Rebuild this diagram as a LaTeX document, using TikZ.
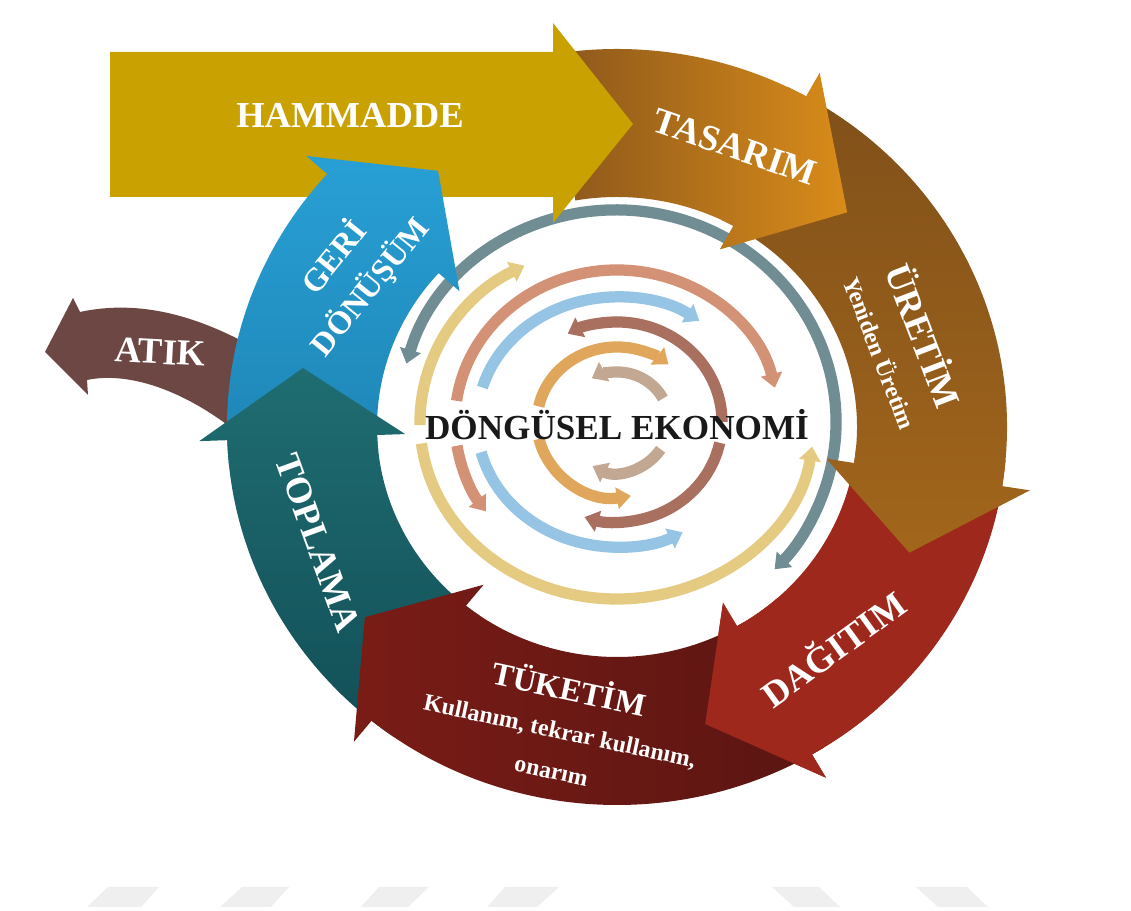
\documentclass[tikz,border=0pt]{standalone}
\usepackage{fontspec}
\setmainfont{Liberation Serif}
\usetikzlibrary{arrows.meta,positioning,calc}

\definecolor{cHammadde}{HTML}{C9A101}
\definecolor{cTasarimL}{HTML}{8A561C}
\definecolor{cTasarimR}{HTML}{D98C19}
\definecolor{cUretimT}{HTML}{80501A}
\definecolor{cUretimB}{HTML}{A2661B}
\definecolor{cDagitim}{HTML}{9E281B}
\definecolor{cTuketimL}{HTML}{7A1C16}
\definecolor{cTuketimR}{HTML}{5A1512}
\definecolor{cToplamaT}{HTML}{1F6D71}
\definecolor{cToplamaB}{HTML}{124F57}
\definecolor{cGeriT}{HTML}{28A0D5}
\definecolor{cGeriB}{HTML}{1E84B5}
\definecolor{cAtik}{HTML}{6C4744}
\definecolor{rGray}{HTML}{6F8D93}
\definecolor{rYellow}{HTML}{E5CB82}
\definecolor{rSalmon}{HTML}{D39176}
\definecolor{rBlue}{HTML}{95C4E4}
\definecolor{rMauve}{HTML}{A97060}
\definecolor{rOrange}{HTML}{E0A75C}
\definecolor{rTaupe}{HTML}{C2A892}
\definecolor{cStripe}{HTML}{EFEFEF}

% curved band: tail angle, head base angle, tip angle
\newcommand\ringarrow[3]{(#1:240 and 230) -- (#1:390 and 378)
  arc[start angle=#1, end angle=#2, x radius=390, y radius=378]
  -- (#2:418 and 405) -- (#3:320 and 309) -- (#2:212 and 203) -- (#2:240 and 230)
  arc[start angle=#2, end angle=#1, x radius=240, y radius=230] -- cycle}

% inner arc: start, end, x radius, y radius
\newcommand\ringarc[4]{(#1:#3 and #4) arc[start angle=#1, end angle=#2, x radius=#3, y radius=#4]}

\newcommand\subsize{\fontsize{17}{19}\selectfont}

\begin{document}
\begin{tikzpicture}[x=0.025cm, y=0.025cm,
    ring/.style={line width=8pt, -{Triangle[width=15pt,length=10pt]}},
    lbl/.style={text=white, inner sep=0pt, align=center, font=\bfseries\fontsize{26}{28}\selectfont},
    midlbl/.style={font=\bfseries\fontsize{23}{25}\selectfont},
    titletext/.style={inner sep=0pt, text=black!90, font=\bfseries\fontsize{25}{27}\selectfont},
]

\useasboundingbox (0,0) rectangle (1131,911);
\fill[white] (0,0) rectangle (1131,911);

% faint stripes at the foot
\foreach \ta/\tb/\ba/\bb in {108/159/87/141, 242/289/220/271, 379/429/361/408,
    505/559/487/537, 772/819/794/840, 916/967/938/988}
  \fill[cStripe] (\ta,24) -- (\tb,24) -- (\bb,4) -- (\ba,4) -- cycle;

% Inner rings
\begin{scope}[shift={(617,489)}]
  \draw[ring, rGray, {Triangle[width=15pt,length=10pt]}-{Triangle[width=15pt,length=10pt]}]
    \ringarc{164}{-44}{219}{212};
  \draw[ring, rYellow] \ringarc{181}{118}{197}{177};
  \draw[ring, rYellow] \ringarc{187}{352}{197}{177};
  \draw[ring, rSalmon] \ringarc{172}{13}{162}{152};
  \draw[ring, rSalmon] \ringarc{189}{216}{162}{152};
  \draw[ring, rBlue] \ringarc{164}{54}{140}{125};
  \draw[ring, rBlue] \ringarc{194}{298}{140}{125};
  \draw[ring, rMauve] \ringarc{0}{118}{105}{100};
  \draw[ring, rMauve] \ringarc{-12}{-108}{105}{100};
  \draw[ring, rOrange] \ringarc{168}{50}{80}{75};
  \draw[ring, rOrange] \ringarc{193}{280}{80}{75};
  \draw[ring, rTaupe] \ringarc{28}{119}{52}{50};
  \draw[ring, rTaupe] \ringarc{-33}{-118}{52}{50};
\end{scope}

% Outer cycle
\begin{scope}[shift={(617,484)}]
  \fill[cDagitim] \ringarrow{-5}{-60}{-74};
  \shade[top color=cUretimT, bottom color=cUretimB] \ringarrow{64}{-9}{-24};
  \shade[left color=cTasarimL, right color=cTasarimR] \ringarrow{100}{61}{44};
\end{scope}

% Raw material
\fill[cHammadde] (110,859) -- (553,859) -- (553,888) -- (633,787)
  -- (553,688) -- (553,714) -- (110,714) -- cycle;

% Waste
\fill[cAtik] (260,560) .. controls (200,595) and (140,612) .. (80,599)
  -- (73,613) -- (45,559) -- (88,516) -- (87,531)
  .. controls (130,540) and (190,520) .. (250,468) -- cycle;

\begin{scope}[shift={(617,484)}]
  \shade[top color=cGeriT, bottom color=cGeriB] \ringarrow{186}{138}{124};
  \shade[top color=cToplamaT, bottom color=cToplamaB] \ringarrow{235}{182}{169};
  \shade[left color=cTuketimL, right color=cTuketimR] \ringarrow{-58}{-129}{-142};
  \fill[cDagitim] \ringarrow{-48}{-60}{-74};
\end{scope}

% Labels
\node[lbl] (hammadde) at (350,796) {HAMMADDE};
\node[lbl, rotate=-19] (tasarim) at (735,764) {TASARIM};
\node[lbl, rotate=-69] (uretim) at (906,568) {ÜRETİM\\[2pt]\subsize Yeniden Üretim};
\node[lbl, rotate=36] (dagitim) at (832,264) {DAĞITIM};
\node[lbl, midlbl, rotate=-12] (tuketim) at (561,185)
  {TÜKETİM\\[3pt]\subsize Kullanım, tekrar kullanım,\\[4pt]\subsize onarım};
\node[lbl, midlbl, rotate=51] (geri) at (352,639) {GERİ\\[8pt]DÖNÜŞÜM};
\node[lbl, rotate=-70] (toplama) at (318,368) {TOPLAMA};
\node[lbl, rotate=-3] (atik) at (160,559) {ATIK};

% Centre title
\node[titletext] (title) at (617,486) {DÖNGÜSEL EKONOMİ};

\end{tikzpicture}
\end{document}
